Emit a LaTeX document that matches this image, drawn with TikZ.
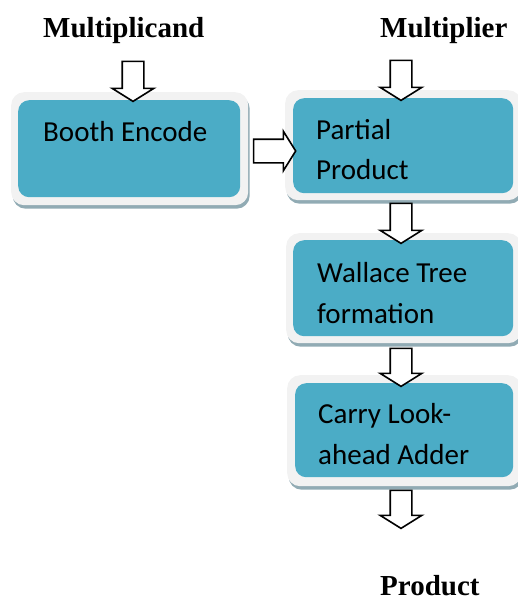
\documentclass[tikz,border=0pt]{standalone}
\usepackage{fontspec}
\setmainfont{Liberation Serif}
\newfontfamily\boxfont{Carlito}
\usetikzlibrary{shapes.arrows,shadows}
\definecolor{tealc}{HTML}{4BACC6}
\definecolor{framec}{HTML}{F2F2F2}
\definecolor{shadowc}{HTML}{91ABB4}
\tikzset{
  frame/.style={rectangle, rounded corners=13pt, fill=framec, draw=none, anchor=north west,
    drop shadow={shadow xshift=1.5pt, shadow yshift=-3.5pt, fill=shadowc, opacity=1}},
  inner/.style={rectangle, rounded corners=11pt, fill=tealc, draw=none, anchor=north west},
  boxtext/.style={anchor=base west, inner sep=0pt, font=\boxfont\fontsize{29}{41}\selectfont},
  headtext/.style={anchor=base west, inner sep=0pt, font=\bfseries\fontsize{29}{34}\selectfont},
  blockarrow/.style={single arrow, draw=black, fill=white, line width=1.6pt,
    inner xsep=0pt, inner ysep=10pt, single arrow head extend=10pt,
    single arrow tip angle=116, minimum height=40pt},
}
\begin{document}
\begin{tikzpicture}[x=1pt,y=-1pt]
\useasboundingbox (0,0) rectangle (517,600);
% headings
\node[headtext] (mcand) at (43,37) {Multiplicand};
\node[headtext] (mplier) at (380,37) {Multiplier};
\node[headtext] (product) at (380,595) {Product};
% Booth Encode
\node[frame, minimum width=237pt, minimum height=113pt] (boothf) at (11,92) {};
\node[inner, minimum width=222pt, minimum height=97pt] (booth) at (18,100) {};
\node[boxtext] (bootht) at (43,141) {Booth Encode};
% Partial Product
\node[frame, minimum width=236pt, minimum height=110pt] (partialf) at (285,90) {};
\node[inner, minimum width=220pt, minimum height=95pt] (partial) at (293,98) {};
\node[boxtext] (partialt1) at (316,139) {Partial};
\node[boxtext] (partialt2) at (316,179) {Product};
% Wallace Tree
\node[frame, minimum width=235pt, minimum height=110pt] (wallacef) at (286,233) {};
\node[inner, minimum width=220pt, minimum height=96pt] (wallace) at (293,240) {};
\node[boxtext] (wallacet1) at (317,282) {Wallace Tree};
\node[boxtext] (wallacet2) at (317,323) {formation};
% Carry Look-ahead
\node[frame, minimum width=234pt, minimum height=111pt] (carryf) at (287,375) {};
\node[inner, minimum width=218pt, minimum height=94pt] (carry) at (295,383) {};
\node[boxtext] (carryt1) at (318,423) {Carry Look-};
\node[boxtext] (carryt2) at (318,464) {ahead Adder};
% block arrows
\node[blockarrow, rotate=-90] (a1) at (133,78) {};
\node[blockarrow, rotate=-90] (a2) at (401,77) {};
\node[blockarrow, inner ysep=11pt, single arrow head extend=8pt, minimum height=42pt] (a3) at (271,151) {};
\node[blockarrow, rotate=-90] (a4) at (401,220) {};
\node[blockarrow, rotate=-90, minimum height=38pt] (a5) at (401,364) {};
\node[blockarrow, rotate=-90, minimum height=38pt] (a6) at (401,506) {};
\end{tikzpicture}
\end{document}
